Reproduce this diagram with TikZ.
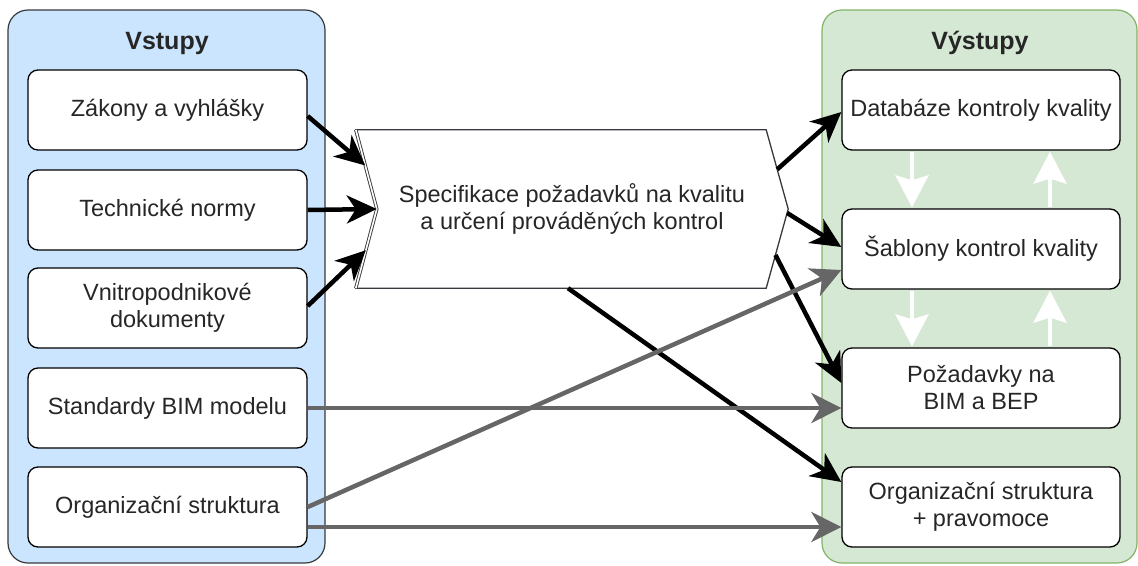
\documentclass[tikz,border=0pt]{standalone}
\usepackage{fontspec}
\setmainfont{Liberation Sans}
\usetikzlibrary{arrows.meta,calc}
\definecolor{inblue}{HTML}{CCE5FF}
\definecolor{inedge}{HTML}{36393D}
\definecolor{outgreen}{HTML}{D5E8D4}
\definecolor{outedge}{HTML}{82B366}
\definecolor{txt}{HTML}{262626}
\definecolor{greyline}{HTML}{666666}

\begin{document}
\begin{tikzpicture}[x=1pt,y=-1pt,
  every node/.style={font=\fontsize{23.5}{27}\selectfont, text=txt, align=center},
  paneltitle/.style={font=\fontsize{25}{28}\selectfont\bfseries},
  panel/.style={rounded corners=20pt, line width=1.2pt},
  item/.style={draw=black, fill=white, rounded corners=10pt, line width=1.3pt,
    minimum width=279pt, minimum height=80pt, inner sep=0pt},
  blackarrow/.style={draw=black, line width=4.5pt,
    -{Stealth[length=30pt,width=28pt,inset=9pt]}},
  greyarrow/.style={draw=greyline, line width=4.5pt,
    -{Stealth[length=30pt,width=30pt,inset=9pt]}},
  whitearrow/.style={draw=white, line width=4pt,
    -{Stealth[length=32pt,width=33pt,inset=5pt]}},
]
\useasboundingbox (0,0) rectangle (1138,565);

% input and output panels
\draw[panel, fill=inblue, draw=inedge] (8,10) rectangle (325,563);
\draw[panel, fill=outgreen, draw=outedge] (822,10) rectangle (1137,563);
\node[paneltitle] (tin) at (167,43) {Vstupy};
\node[paneltitle] (tout) at (980,43) {Výstupy};

% inputs
\node[item] (in1) at (167.5,110) {Zákony a vyhlášky};
\node[item] (in2) at (167.5,210) {Technické normy};
\node[item] (in3) at (167.5,308) {Vnitropodnikové\\dokumenty};
\node[item] (in4) at (167.5,408) {Standardy BIM modelu};
\node[item] (in5) at (167.5,507) {Organizační struktura};

% outputs
\node[item, minimum width=278pt] (out1) at (981,110) {Databáze kontroly kvality};
\node[item, minimum width=278pt] (out2) at (981,249) {Šablony kontrol kvality};
\node[item, minimum width=278pt] (out3) at (981,388) {Požadavky na\\BIM a BEP};
\node[item, minimum width=278pt] (out4) at (981,507) {Organizační struktura\\+ pravomoce};

% central step
\node[minimum width=432pt, minimum height=158pt, inner sep=0pt] (spec) at (572,209) {};
\coordinate (sA) at (spec.north west);
\coordinate (sN) at ($(spec.west)+(21,0)$);
\coordinate (sB) at (spec.south west);
\coordinate (sC) at ($(spec.north east)+(-22,0)$);
\coordinate (sT) at (spec.east);
\coordinate (sD) at ($(spec.south east)+(-22,0)$);
\draw[fill=white, draw=inedge, line width=1.3pt]
  (sA) -- (sC) -- (sT) -- (sD) -- (sB) -- (sN) -- cycle;
\draw[draw=inedge, line width=0.9pt, double=white, double distance=1.6pt]
  (sA) -- (sN) -- (sB);
\node (spectext) at (572,209) {Specifikace požadavků na kvalitu\\a určení prováděných kontrol};

% inputs into the step
\draw[blackarrow] ($(in1.east)+(0,6)$) -- ($(sA)!0.45!(sN)$);
\draw[blackarrow] (in2.east) -- (sN);
\draw[blackarrow] ($(in3.east)+(0,-2)$) -- ($(sB)!0.48!(sN)$);

% step into outputs
\draw[blackarrow] ($(sC)!0.5!(sT)$) -- ($(out1.west)+(0,2)$);
\draw[blackarrow] ($(sT)!0.05!(sD)$) -- ($(out2.west)+(0,-2)$);
\draw[blackarrow] ($(sT)!0.58!(sD)$) -- ($(out3.west)+(0,-5)$);
\draw[blackarrow] ($(spec.south)+(-4,0)$) -- ($(out4.west)+(0,-25)$);

% direct links
\draw[greyarrow] (in4.east) -- ($(out3.west)+(0,20)$);
\draw[greyarrow] (in5.east) -- ($(out2.west)+(0,21)$);
\draw[greyarrow] ($(in5.east)+(0,20)$) -- ($(out4.west)+(0,20)$);

% feedback between outputs
\draw[whitearrow] ($(out1.south)+(-69,1)$) -- ($(out2.north)+(-69,-1)$);
\draw[whitearrow] ($(out2.north)+(69,-1)$) -- ($(out1.south)+(69,1)$);
\draw[whitearrow] ($(out2.south)+(-69,1)$) -- ($(out3.north)+(-69,-1)$);
\draw[whitearrow] ($(out3.north)+(69,-1)$) -- ($(out2.south)+(69,1)$);
\end{tikzpicture}
\end{document}
